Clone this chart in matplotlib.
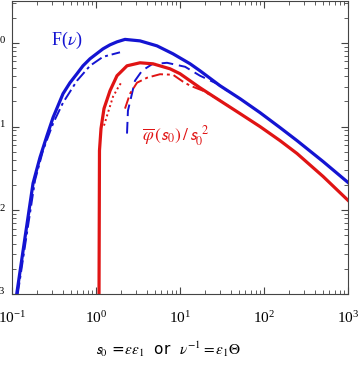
import matplotlib
matplotlib.use("Agg")
import matplotlib.pyplot as plt

plt.rcParams['mathtext.fontset'] = 'stix'

# F(nu), solid blue
f_x = [0.1138, 0.143, 0.178, 0.2154, 0.261, 0.308, 0.405, 0.490, 0.594, 0.700, 0.848, 1.211,
       1.468, 1.778, 2.214, 3.34, 5.32, 8.25, 13.2, 17.3, 29.9, 51.8, 89.6, 155, 247, 504, 1000]
f_y = [0.001, 0.00477, 0.0210, 0.0428, 0.0781, 0.128, 0.247, 0.334, 0.428, 0.532, 0.645, 0.848,
       0.947, 1.028, 1.10, 1.056, 0.921, 0.740, 0.562, 0.464, 0.308, 0.2154, 0.1468, 0.0973,
       0.068, 0.0383, 0.0215]

# blue dash-dot approximation
fdd_x = [0.117, 0.150, 0.188, 0.234, 0.308, 0.405, 0.594, 0.848, 1.211, 1.93]
fdd_y = [0.001, 0.0052, 0.0228, 0.0518, 0.1086, 0.193, 0.353, 0.532, 0.681, 0.771]

# blue dashed approximation
fd_x = [2.34, 2.40, 2.68, 2.91, 3.53, 4.64, 7.0, 11.5, 17.3, 27.6, 36.3]
fd_y = [0.0825, 0.155, 0.247, 0.353, 0.464, 0.555, 0.578, 0.518, 0.405, 0.325, 0.268]

# phi(s0)/s0^2, solid red
p_x = [1.086, 1.10, 1.147, 1.245, 1.468, 1.778, 1.93, 2.34, 3.34, 4.77, 7.6, 10.0, 17.3, 29.9,
       51.8, 89.6, 155, 247, 504, 1000]
p_y = [0.00095, 0.0518, 0.0947, 0.164, 0.268, 0.405, 0.439, 0.532, 0.578, 0.562, 0.490, 0.428,
       0.291, 0.204, 0.143, 0.100, 0.068, 0.0477, 0.0254, 0.01315]

# red dotted
pdot_x = [1.245, 1.389, 1.594, 1.828, 2.01]
pdot_y = [0.1027, 0.1468, 0.2276, 0.291, 0.339]

# red dash-dot
pdd_x = [2.214, 2.54, 3.075, 4.05, 5.78, 8.25, 10.9, 13.2, 18.8, 27.6, 37.2]
pdd_y = [0.164, 0.247, 0.334, 0.383, 0.422, 0.416, 0.343, 0.308, 0.268, 0.2154, 0.178]

blue = '#1414d2'
red = '#e01414'

fig = plt.figure(figsize=(3.6, 3.67), dpi=100)
ax = fig.add_axes([12 / 360, 73 / 367, 336 / 360, 293 / 367])

ax.plot(f_x, f_y, color=blue, lw=2.3, solid_joinstyle='round')
ax.plot(fdd_x, fdd_y, color=blue, lw=1.4, ls=(0, (6, 2, 1.5, 2)))
ax.plot(fd_x, fd_y, color=blue, lw=1.4, ls=(0, (6, 3)))
ax.plot(p_x, p_y, color=red, lw=2.3, solid_joinstyle='round')
ax.plot(pdot_x, pdot_y, color=red, lw=1.4, ls=(0, (1, 1.5)))
ax.plot(pdd_x, pdd_y, color=red, lw=1.4, ls=(0, (6, 2, 1.5, 2)))

ax.set_xscale('log')
ax.set_yscale('log')
ax.set_xlim(0.1, 1000)
ax.set_ylim(1e-3, 10 ** 0.5)

ax.tick_params(which='both', direction='in', top=True, right=True, color='#444444')
ax.tick_params(which='major', length=5, labelsize=11)
ax.tick_params(which='minor', length=3)
ax.tick_params(axis='x', which='major', pad=11.5)
ax.tick_params(axis='y', which='major', pad=4.5)
for lab in ax.get_xticklabels() + ax.get_yticklabels():
    lab.set_family('Liberation Serif')
for s in ax.spines.values():
    s.set_color('#444444')

ax.text(0.115, 0.864, r'F($\nu$)', transform=ax.transAxes, color=blue,
        fontsize=13, family='Liberation Serif', va='center')
ax.text(0.387, 0.524, r'$\overline{\varphi}\,(\mathsf{s}_0)\,/\,\mathsf{s}_0^{\;\;2}$',
        transform=ax.transAxes, color=red, fontsize=12.5, va='baseline')

ax.set_xlabel(r'$\mathsf{s}_0$ =$\epsilon\epsilon_1$  or  $\nu^{-1} = \epsilon_1\Theta$',
              fontsize=11)
ax.xaxis.set_label_coords(0.464, -0.155)

fig.savefig('out.png', dpi=100)
